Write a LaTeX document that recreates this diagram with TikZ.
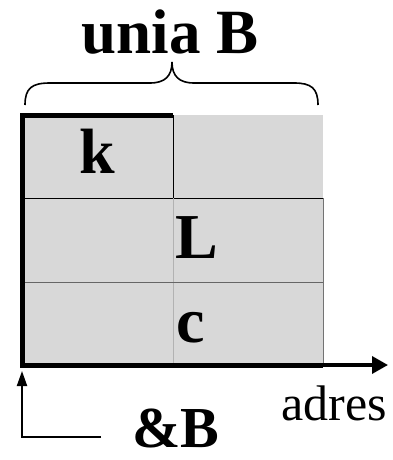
\documentclass[tikz,border=0pt]{standalone}
\usepackage{fontspec}
\setmainfont{Liberation Serif}
\usetikzlibrary{arrows.meta}
\definecolor{cellgray}{HTML}{D8D8D8}
\tikzset{
  lbl/.style={font=\fontsize{64}{70}\selectfont\bfseries, inner sep=0pt, anchor=base},
  thickedge/.style={line width=5pt, line join=miter},
  divider/.style={line width=1pt},
  brace/.style={line width=1.6pt},
}
\begin{document}
\begin{tikzpicture}[x=1pt, y=-1pt]
  \useasboundingbox (0,0) rectangle (393,460);

  % corner points of the memory block
  \coordinate (tl) at (22,115);
  \coordinate (tm) at (173,115);
  \coordinate (bl) at (22,365);
  \coordinate (br) at (323,365);
  \coordinate (ml) at (22,198);
  \coordinate (mr) at (323,198);
  \coordinate (mm) at (173,198);
  \coordinate (bm) at (173,365);
  \coordinate (ll) at (22,282);
  \coordinate (lr) at (323,282);
  \coordinate (axisend) at (388,365);

  % cells
  \fill[cellgray] (tl) rectangle (br);
  \draw[divider, black] (ml) -- (mr);
  \draw[divider, black] (tm) -- (mm);
  \draw[divider, black!30] (mm) -- (bm);
  \draw[divider, black!60] (ll) -- (lr);
  \draw[divider, black!55] (mr) -- (br);

  % thick outline and address axis
  \draw[thickedge] (tm) -- (tl) -- (bl) -- (br);
  \draw[line width=3.5pt, -{Triangle[length=16pt, width=17pt]}] (br) -- (axisend);

  % pointer to the start of the block
  \coordinate (ptrtip) at (22,371);
  \coordinate (ptrbend) at (22,437);
  \coordinate (ptrend) at (101,437);
  \draw[line width=2pt, -{Triangle[length=15pt, width=10pt]}] (ptrend) -- (ptrbend) -- (ptrtip);

  % brace over the union
  \coordinate (bltip) at (25,105);
  \coordinate (brtip) at (318,105);
  \coordinate (btop) at (172,62);
  \draw[brace] (bltip) .. controls (25,88) and (32,83) .. (50,83) -- (150,83)
        .. controls (165,83) and (172,76) .. (btop);
  \draw[brace] (brtip) .. controls (318,88) and (311,83) .. (294,83) -- (194,83)
        .. controls (179,83) and (172,76) .. (btop);

  % labels
  \node[lbl, font=\fontsize{63}{70}\selectfont\bfseries] (title) at (170,53) {unia B};
  \node[lbl] (k) at (97,173) {k};
  \node[lbl] (L) at (197,258) {L};
  \node[lbl] (c) at (191,342) {c};
  \node[lbl, font=\fontsize{58}{66}\selectfont\bfseries] (addr) at (176,447) {\&B};
  \node[lbl, font=\fontsize{50}{56}\selectfont] (adres) at (334,420) {adres};
\end{tikzpicture}
\end{document}
